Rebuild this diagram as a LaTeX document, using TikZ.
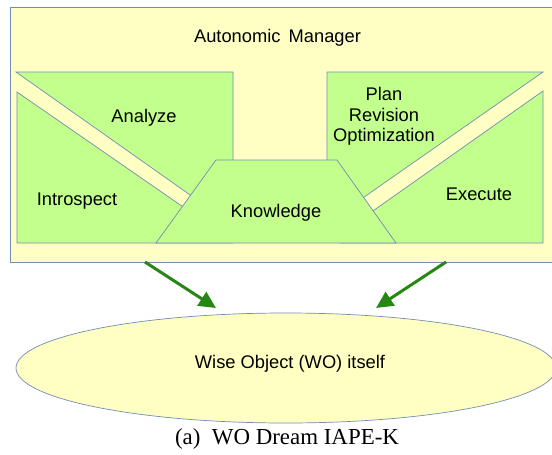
\documentclass[tikz,border=0pt]{standalone}
\usepackage{fontspec}
\setmainfont{Liberation Sans}
\newfontfamily\capfont{Liberation Serif}
\usetikzlibrary{arrows.meta,shapes.geometric}
\definecolor{edgeblue}{RGB}{114,140,180}
\definecolor{lgreen}{RGB}{194,255,140}
\definecolor{lyellow}{RGB}{255,255,196}
\definecolor{arrgreen}{RGB}{38,135,20}
\tikzset{
  part/.style={draw=edgeblue, fill=lgreen, line width=0.7pt, line join=miter},
  lbl/.style={inner sep=0pt, anchor=base, font=\fontsize{18.3}{22}\selectfont},
  flow/.style={draw=arrgreen, line width=3pt, -{Triangle[length=17pt,width=16pt]}}
}
\begin{document}
\begin{tikzpicture}[x=1pt,y=-1pt]
\useasboundingbox (0,0) rectangle (552,455);
\clip (0,0) rectangle (552,455);
% outer manager box
\draw[draw=edgeblue, fill=lyellow, line width=0.8pt] (10,7) rectangle (570,262);
% Analyze
\path[part] (16,72) -- (233,72) -- (233,209) -- (210,209) -- cycle;
% Introspect
\path[part] (17,92) -- (202,220) -- (233,220) -- (233,243) -- (17,243) -- cycle;
% Plan
\path[part] (327,72) -- (543,72) -- (347,209) -- (327,209) -- cycle;
% Execute
\path[part] (543,91) -- (543,243) -- (340,243) -- (340,225) -- (353,225) -- cycle;
% Knowledge
\path[part] (216,160) -- (337,160) -- (396,243) -- (156,243) -- cycle;
% labels
\node[lbl] (am) at (277.5,42) {Autonomic\, Manager};
\node[lbl] (an) at (144,122.5) {Analyze};
\node[lbl] (in) at (77,205.5) {Introspect};
\node[lbl] (kn) at (276,217) {Knowledge};
\node[lbl] (pl1) at (384,100.5) {Plan};
\node[lbl] (pl2) at (384,121) {Revision};
\node[lbl] (pl3) at (384,141.5) {Optimization};
\node[lbl] (ex) at (479,200) {Execute};
% Wise object
\node[ellipse, draw=edgeblue, fill=lyellow, line width=0.7pt, minimum width=540pt, minimum height=110pt, inner sep=0pt] (wo) at (286,368) {};
\node[lbl] (wot) at (290,368) {Wise Object (WO) itself};
% arrows
\coordinate (s1) at (145,262);
\coordinate (e1) at (216,308);
\coordinate (s2) at (446,262);
\coordinate (e2) at (376,308);
\draw[flow] (s1) -- (e1);
\draw[flow] (s2) -- (e2);
% caption
\node[inner sep=0pt, anchor=base, font=\capfont\fontsize{22.9}{26}\selectfont] (cap) at (287,444) {(a)\enspace WO Dream IAPE-K};
\end{tikzpicture}
\end{document}
